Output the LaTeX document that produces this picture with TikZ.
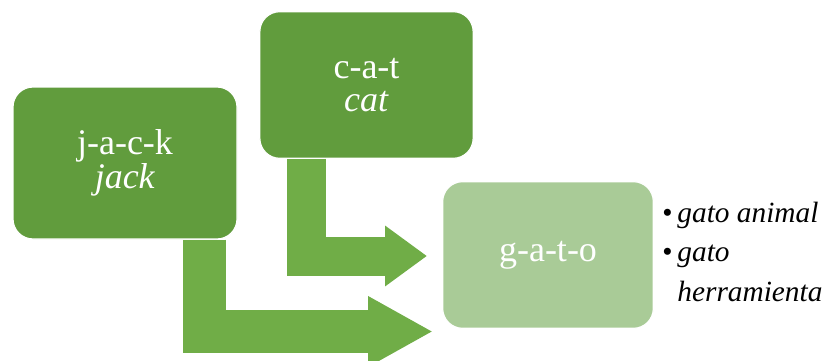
\documentclass[tikz,border=0pt]{standalone}
\usepackage{fontspec}
\setmainfont{Liberation Serif}
\usepackage{tikz}
\usetikzlibrary{arrows.meta}

\definecolor{boxgreen}{HTML}{619C3D}
\definecolor{arrowgreen}{HTML}{70AD47}
\definecolor{palegreen}{HTML}{A9CB97}

\begin{document}
\begin{tikzpicture}[x=0.75pt,y=0.75pt,yscale=-1,xscale=1,
    wordbox/.style={draw=white, line width=0.9pt, rounded corners=15pt, align=center,
        text=white, inner sep=0pt, font=\fontsize{27}{25}\selectfont},
    bigarrow/.style={draw=arrowgreen, line join=miter}]
        \useasboundingbox (0,0) rectangle (823,360);
        % boxes
        \node [wordbox, fill=boxgreen, minimum width=168pt, minimum height=114pt] (jack) at (125,163) {j-a-c-k\\\textit{jack}};
        \node [wordbox, fill=boxgreen, minimum width=160pt, minimum height=110pt] (cat) at (366.5,85) {c-a-t\\\textit{cat}};
        \node [wordbox, fill=palegreen, minimum width=158pt, minimum height=110pt] (gato) at (548,255) {g-a-t-o};
        % arrows
        \coordinate (lowbend) at (204,331.5);
        \coordinate (lowtip) at (433,331.5);
        \coordinate (upbend) at (306,256);
        \coordinate (uptip) at (427,256);
        \draw [bigarrow, line width=32.25pt, -{Triangle[length=48.75pt,width=49.5pt]}] (jack.south -| lowbend) -- (lowbend) -- (lowtip);
        \draw [bigarrow, line width=29.25pt, -{Triangle[length=31.5pt,width=43.5pt]}] (cat.south -| upbend) -- (upbend) -- (uptip);
        % meanings
        \node [anchor=north west, inner sep=0pt, align=left, font=\fontsize{22}{29.5}\selectfont] (meanings) at (662,202)
            {\textbullet\,\textit{gato animal}\\\textbullet\,\textit{gato}\\\phantom{\textbullet\,}\textit{herramienta}};
    \end{tikzpicture}
\end{document}
